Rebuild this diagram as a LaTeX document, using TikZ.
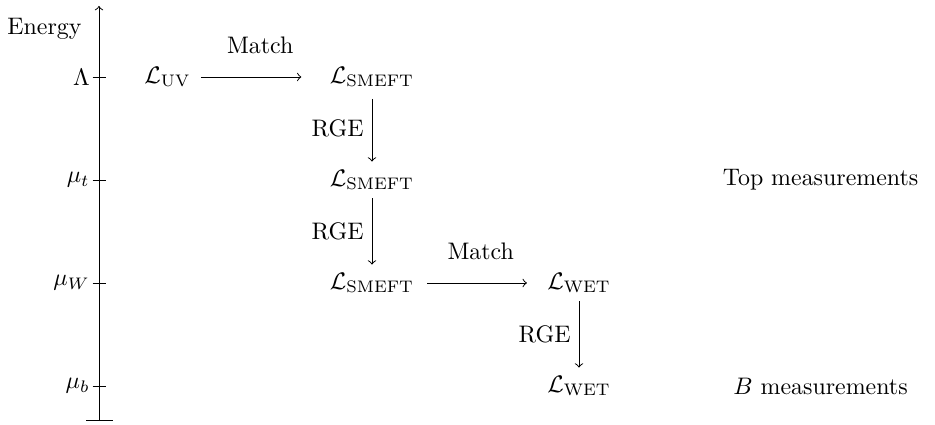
\documentclass[tikz,border=0pt]{standalone}
\begin{document}
\begin{tikzpicture}[x=0.4184pt,y=-0.4184pt,
  lag/.style={inner sep=3.33pt},
  ticklab/.style={anchor=east,inner sep=1pt},
  tickmark/.style={line width=0.4pt},
  flow/.style={->},
  side/.style={inner sep=3.33pt},
  toplabel/.style={inner sep=3.33pt,above=6.3pt}]
\useasboundingbox (0,0) rectangle (935,425);
% axis
\coordinate (axbot) at (99,420);
\coordinate (axtop) at (99,6);
\coordinate (barl) at (86,420);
\coordinate (barr) at (113,420);
\draw[->] (axbot) -- (axtop);
\draw (barl) -- (barr);
\node[anchor=base east,inner sep=0pt] (energy) at (82,34.3) {Energy};
% ticks
\foreach \n/\y/\t in {tA/77/{$\Lambda$},tB/180/{$\mu_t$},tC/283/{$\mu_W$},tD/386/{$\mu_b$}}{
  \coordinate (\n l) at (92.5,\y);
  \coordinate (\n r) at (105.5,\y);
  \draw[tickmark] (\n l) -- (\n r);
  \node[ticklab] (\n lab) at (\n l) {\t};
}
% Lagrangians
\node[lag] (uv) at (167.5,77) {$\mathcal{L}_{\mathrm{UV}}$};
\node[lag] (s1) at (372,77) {$\mathcal{L}_{\mathrm{SMEFT}}$};
\node[lag] (s2) at (372,180) {$\mathcal{L}_{\mathrm{SMEFT}}$};
\node[lag] (s3) at (372,283) {$\mathcal{L}_{\mathrm{SMEFT}}$};
\node[lag] (w1) at (579,283) {$\mathcal{L}_{\mathrm{WET}}$};
\node[lag] (w2) at (579,386) {$\mathcal{L}_{\mathrm{WET}}$};
% measurements
\node (top) at (820.5,180) {Top measurements};
\node (bmeas) at (820.5,386) {$B$ measurements};
% arrows
\draw[flow,shorten <=0.8pt,shorten >=8.4pt] (uv) -- node[toplabel] (m1) {Match} (s1);
\draw[flow,shorten <=1.5pt] (s1) -- node[side,left] (r1) {RGE} (s2);
\draw[flow] (s2) -- node[side,left] (r2) {RGE} (s3);
\draw[flow,shorten <=2pt,shorten >=5pt] (s3) -- node[toplabel] (m2) {Match} (w1);
\draw[flow] (w1) -- node[side,left] (r3) {RGE} (w2);
\end{tikzpicture}
\end{document}
